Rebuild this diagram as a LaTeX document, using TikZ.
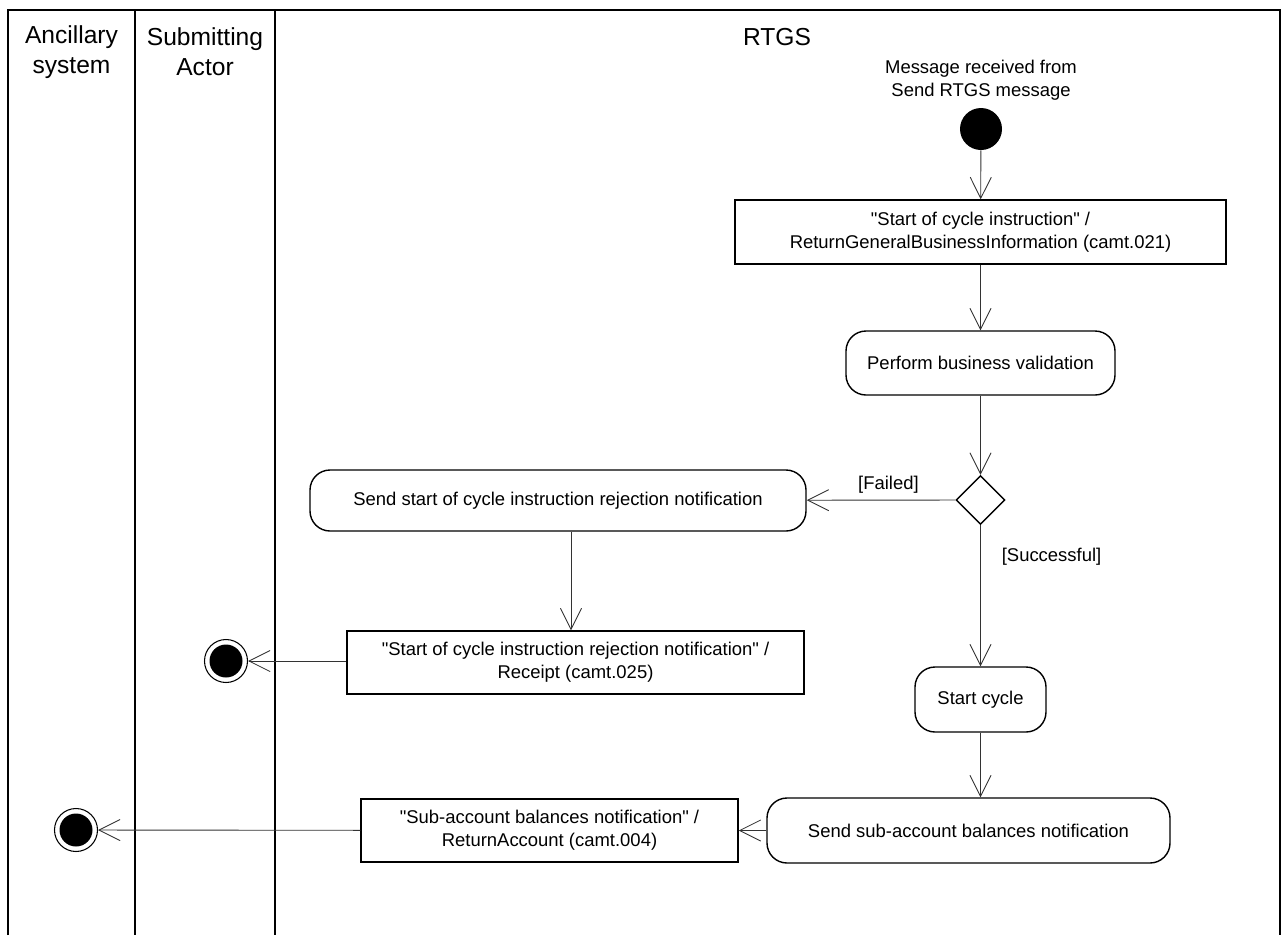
\documentclass[tikz,border=0pt]{standalone}
\usepackage{fontspec}
\setmainfont{Liberation Sans}[Ligatures=TeXOff]
\usetikzlibrary{arrows.meta,shapes.geometric}

\begin{document}
\begin{tikzpicture}[>={Straight Barb[length=12pt,width=12pt]},
    lane/.style={line width=1pt},
    act/.style={draw, line width=0.8pt, rounded corners=0.4cm, align=center, font=\fontsize{10.5}{13}\selectfont},
    obj/.style={draw, line width=0.8pt, align=center, font=\fontsize{10.5}{13}\selectfont},
    flow/.style={->, line width=0.5pt, black!80},
    endnode/.style={circle, draw, line width=0.6pt, minimum size=0.86cm, inner sep=0pt,
        path picture={\fill (path picture bounding box.center) circle (0.33cm);}},
    txt/.style={font=\fontsize{10.5}{13}\selectfont, align=center, text=black}]
    \useasboundingbox (0,0) rectangle (25.64,-18.7);
    % swimlanes
    \draw[lane] (0.16,-18.7) -- (0.16,-0.2) -- (25.6,-0.2) -- (25.6,-18.7);
    \draw[lane] (2.7,-0.2) -- (2.7,-18.7);
    \draw[lane] (5.5,-0.2) -- (5.5,-18.7);
    \node[align=center, font=\fontsize{14}{17}\selectfont] (ancillary) at (1.43,-1.04) {Ancillary\\system};
    \node[align=center, font=\fontsize{14}{17}\selectfont] (submitter) at (4.1,-1.04) {Submitting\\Actor};
    \node[font=\fontsize{14}{17}\selectfont] (rtgs) at (15.54,-0.74) {RTGS};

    % RTGS lane
    \node[txt] (startlabel) at (19.62,-1.6) {Message received from\\Send RTGS message};
    \node[circle, fill, minimum size=0.84cm, inner sep=0pt] (start) at (19.62,-2.58) {};
    \node[obj, minimum width=9.82cm, minimum height=1.28cm] (instr) at (19.61,-4.64)
        {"Start of cycle instruction" /\\ReturnGeneralBusinessInformation (camt.021)};
    \node[act, minimum width=5.38cm, minimum height=1.28cm] (validate) at (19.61,-7.26) {Perform business validation};
    \node[diamond, draw, line width=0.8pt, minimum size=0.98cm, inner sep=0pt] (check) at (19.61,-10.0) {};
    \node[act, minimum width=9.92cm, minimum height=1.22cm] (rejnote) at (11.16,-10.01)
        {Send start of cycle instruction rejection notification};
    \node[obj, minimum width=9.14cm, minimum height=1.26cm] (receipt) at (11.51,-13.25)
        {"Start of cycle instruction rejection notification" /\\Receipt (camt.025)};
    \node[endnode] (end1) at (4.52,-13.22) {};
    \node[act, minimum width=2.62cm, minimum height=1.3cm] (cycle) at (19.61,-13.99) {Start cycle};
    \node[act, minimum width=8.06cm, minimum height=1.3cm] (subnote) at (19.37,-16.61)
        {Send sub-account balances notification};
    \node[obj, minimum width=7.54cm, minimum height=1.26cm] (subbox) at (10.99,-16.61)
        {"Sub-account balances notification" /\\ReturnAccount (camt.004)};
    \node[endnode] (end2) at (1.52,-16.6) {};

    % flows
    \draw[flow] (start) -- (instr);
    \draw[flow] (instr) -- (validate);
    \draw[flow] (validate) -- (check);
    \draw[flow] (check) -- node[txt, above, pos=0.45] {[Failed]} (rejnote);
    \draw[flow] (check) -- node[txt, right, pos=0.22, xshift=0.3cm] {[Successful]} (cycle);
    \draw[flow] ([xshift=0.26cm]rejnote.south) -- ([xshift=0.26cm]rejnote.south |- receipt.north);
    \draw[flow] (receipt.west |- end1) -- (end1);
    \draw[flow] (cycle.south) -- (cycle.south |- subnote.north);
    \draw[flow] (subnote) -- (subbox);
    \draw[flow] (subbox) -- (end2);
\end{tikzpicture}
\end{document}
